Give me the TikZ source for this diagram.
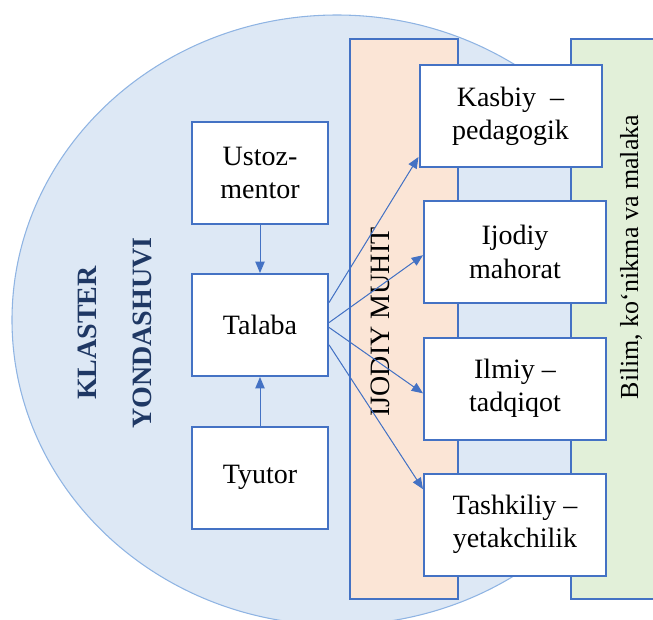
\documentclass[tikz,border=0pt]{standalone}
\usepackage{fontspec}
\setmainfont{Liberation Serif}
\newfontfamily\diagfont{Liberation Serif}
\usetikzlibrary{arrows.meta}

\definecolor{clusterfill}{HTML}{DDE8F5}
\definecolor{clusterline}{HTML}{8FB4E3}
\definecolor{boxblue}{HTML}{4472C4}
\definecolor{envfill}{HTML}{FBE5D6}
\definecolor{skillfill}{HTML}{E2F0D9}
\definecolor{navy}{HTML}{1F3864}

\begin{document}
\begin{tikzpicture}[x=0.75pt,y=-0.75pt,
  box/.style={draw=boxblue,line width=1.5pt,fill=white,align=center,
    font=\diagfont\fontsize{21}{25}\selectfont},
  leftbox/.style={box,minimum width=102pt,minimum height=76.5pt},
  rightbox/.style={box,minimum width=136.5pt,minimum height=76.5pt},
  arr/.style={-{Triangle[length=8.5pt,width=7pt]},draw=boxblue,fill=boxblue,line width=0.75pt}]
\clip (0,0) rectangle (653,619);

% cluster background
\draw[fill=clusterfill,draw=clusterline,line width=0.8pt] (337,320) ellipse (325 and 305);

% two columns
\draw[fill=envfill,draw=boxblue,line width=1.5pt] (350,39) rectangle (458,599);
\draw[fill=skillfill,draw=boxblue,line width=1.5pt] (571,39) rectangle (680,599);

\node[rotate=90,align=center,text=navy,font=\diagfont\bfseries\fontsize{21}{41}\selectfont] (klaster) at (115,333) {KLASTER\\YONDASHUVI};
\node[rotate=90,font=\diagfont\fontsize{21}{25}\selectfont] (muhit) at (380,322) {IJODIY MUHIT};
\node[rotate=90,font=\diagfont\fontsize{19.5}{24}\selectfont] (bilim) at (631,257) {Bilim, ko‘nikma va malaka};

\node[leftbox] (ustoz) at (260,173) {Ustoz-\\mentor};
\node[leftbox] (talaba) at (260,325) {Talaba};
\node[leftbox] (tyutor) at (260,477.5) {Tyutor};

\node[rightbox] (kasbiy) at (510.5,116) {Kasbiy \ –\\pedagogik};
\node[rightbox] (ijodiy) at (515,252) {Ijodiy\\mahorat};
\node[rightbox] (ilmiy) at (515,388.5) {Ilmiy –\\tadqiqot};
\node[rightbox] (tashkiliy) at (515,524.5) {Tashkiliy –\\yetakchilik};

\draw[arr] (ustoz) -- (talaba);
\draw[arr] (tyutor) -- (talaba);
\foreach \from/\to in {talaba.18/kasbiy.204, talaba.2/ijodiy.182, talaba.358/ilmiy.183, talaba.344/tashkiliy.159}
    \draw[arr] (\from) -- (\to);

\end{tikzpicture}
\end{document}
